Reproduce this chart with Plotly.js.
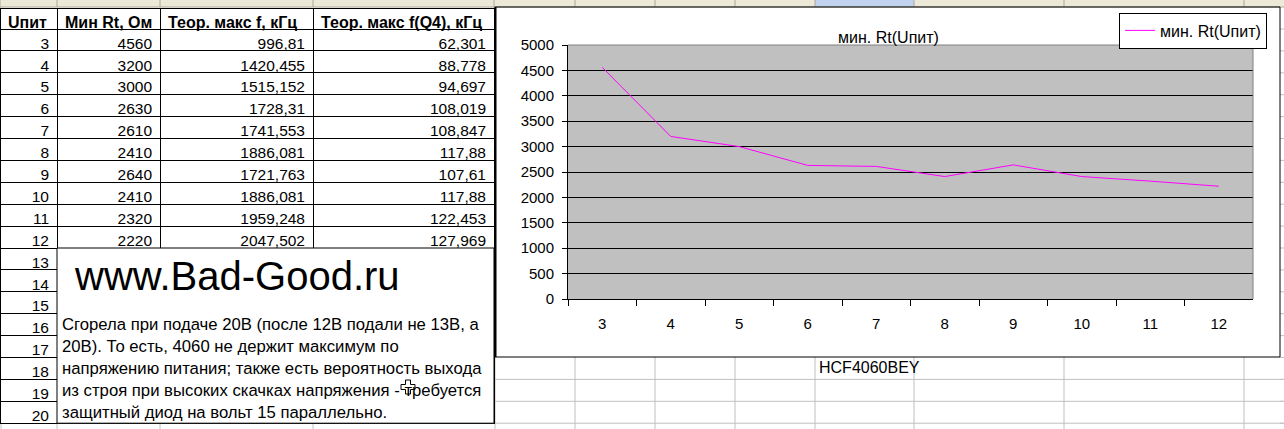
<!DOCTYPE html>
<html><head><meta charset="utf-8">
<script src="https://cdn.plot.ly/plotly-3.0.1.min.js"></script>
<style>html,body{margin:0;padding:0;background:#fff;overflow:hidden}</style>
</head><body><div id="chart" style="width:1284px;height:429px"></div>
<script>
// ---- data ----
const uPit = [3, 4, 5, 6, 7, 8, 9, 10, 11, 12];
const minRt = [4560, 3200, 3000, 2630, 2610, 2410, 2640, 2410, 2320, 2220];
const fMax = [996.81, 1420.455, 1515.152, 1728.31, 1741.553, 1886.081, 1721.763, 1886.081, 1959.248, 2047.502];
const fQ4 = [62.301, 88.778, 94.697, 108.019, 108.847, 117.88, 107.61, 117.88, 122.453, 127.969];
const headers = ['Uпит', 'Мин Rt, Ом', 'Теор. макс f, кГц', 'Теор. макс f(Q4), кГц'];
const extraRows = [13, 14, 15, 16, 17, 18, 19, 20];
const siteText = 'www.Bad-Good.ru';
const noteLines = [
  'Сгорела при подаче 20В (после 12В подали не 13В, а',
  '20В). То есть, 4060 не держит максимум по',
  'напряжению питания; также есть вероятность выхода',
  'из строя при высоких скачках напряжения - требуется',
  'защитный диод на вольт 15 параллельно.'
];
const chartTitle = 'мин. Rt(Uпит)';
const seriesName = 'мин. Rt(Uпит)';
const chipLabel = 'HCF4060BEY';

// ---- geometry (pixels) ----
const W = 1284, H = 429;
const F = 'Liberation Sans, Arial, sans-serif';
const px = x => x / W, py = y => 1 - y / H;
const tableTop = 8, headerH = 21, rowH = 21.9;
const colW = [57, 103, 153, 181];
const colX = [0]; colW.forEach(w => colX.push(colX[colX.length - 1] + w));
const tableRight = colX[colX.length - 1];
const rowTop = i => tableTop + headerH + i * rowH;
const nRows = uPit.length + extraRows.length;
const tableBottom = rowTop(nRows);
const sheetCols = [575, 655, 735, 815, 914, 1064, 1244];
const chartBox = {x0: 495, y0: 7, x1: 1280, y1: 357};
const plotBox = {x0: 568, y0: 45, x1: 1253, y1: 299};

const fmt = v => String(v).replace('.', ',');
const nb = s => s.replace(/ /g, '\u00A0');   // keep header text on one line
const blank = extraRows.map(() => '');

const traces = [
  {
    type: 'table',
    domain: {x: [0, px(tableRight)], y: [py(tableBottom + 2), py(tableTop)]},
    columnwidth: colW,
    header: {
      values: headers.map(nb),
      align: 'left', height: headerH,
      line: {color: 'black', width: 1}, fill: {color: 'white'},
      font: {family: F, size: 16, color: 'black', weight: 'bold'}
    },
    cells: {
      values: [
        uPit.concat(extraRows),
        minRt.map(String).concat(blank),
        fMax.map(fmt).concat(blank),
        fQ4.map(fmt).concat(blank)
      ],
      align: 'right', height: rowH,
      line: {color: 'black', width: 1}, fill: {color: 'white'},
      font: {family: F, size: 15.5, color: 'black'}
    }
  },
  {
    type: 'scatter', mode: 'lines',
    x: uPit, y: minRt, name: seriesName,
    line: {color: '#FF00FF', width: 1},
    showlegend: true, hoverinfo: 'skip'
  }
];

const shapes = [];
const line = (x0, y0, x1, y1, color, width, layer) =>
  shapes.push({type: 'line', xref: 'paper', yref: 'paper', x0: px(x0), y0: py(y0), x1: px(x1), y1: py(y1),
    line: {color: color, width: width || 1}, layer: layer || 'below'});
const rect = (x0, y0, x1, y1, fill, lc, lw, layer) =>
  shapes.push({type: 'rect', xref: 'paper', yref: 'paper', x0: px(x0), y0: py(y0), x1: px(x1), y1: py(y1),
    fillcolor: fill, line: {color: lc || 'rgba(0,0,0,0)', width: lw === undefined ? 0 : lw}, layer: layer || 'below'});

// column header strip
rect(0, 0, W, 7, '#ECE9D8');
rect(815, 0, 914, 7, '#C1D3EF');
line(0, 7, W, 7, '#ACA899');
colX.concat(sheetCols).forEach(x => line(x, 0, x, 7, '#ACA899'));
// sheet gridlines
const grid = '#C0C0C0';
line(1, 7, 1, H, grid);
for (let n = 0; n <= nRows + 1; n++) {
  const y = rowTop(n);
  if (y > chartBox.y1 + 1 && y < H) line(chartBox.x0, y, W, y, grid);
  if (y > chartBox.y0 && y < H) line(chartBox.x1, y, W, y, grid);
}
[chartBox.x0].concat(sheetCols).forEach(x => line(x, chartBox.y1, x, H, grid));
colX.slice(1, -1).forEach(x => line(x, tableBottom, x, H, grid));

// merged text cell
rect(colX[1], rowTop(uPit.length), tableRight, tableBottom, 'white', 'black', 1, 'above');
// chart object border
rect(chartBox.x0, chartBox.y0, chartBox.x1, chartBox.y1, 'rgba(0,0,0,0)', 'black', 1, 'above');
line(chartBox.x0 + 0.5, chartBox.y0, chartBox.x0 + 0.5, chartBox.y1, 'black', 2, 'above');
// plot area border (top & right)
line(plotBox.x0, plotBox.y0, plotBox.x1, plotBox.y0, '#808080', 1, 'above');
line(plotBox.x1, plotBox.y0, plotBox.x1, plotBox.y1, '#808080', 1, 'above');
// mouse cursor
(function () {
  const cx = 408, cy = 387, a = 2.5, b = 7;
  const pts = [[-a,-b],[a,-b],[a,-a],[b,-a],[b,a],[a,a],[a,b],[-a,b],[-a,a],[-b,a],[-b,-a],[-a,-a]];
  const path = 'M' + pts.map(p => px(cx + p[0]) + ',' + py(cy + p[1])).join('L') + 'Z';
  shapes.push({type: 'path', xref: 'paper', yref: 'paper', path: path, fillcolor: 'white',
    line: {color: 'black', width: 1}, layer: 'above'});
})();

const annotations = [];
const label = (text, x, y, size, extra) => annotations.push(Object.assign({
  text: text, x: px(x), y: py(y), xref: 'paper', yref: 'paper', xanchor: 'left', yanchor: 'middle',
  showarrow: false, font: {family: F, size: size, color: 'black'}, borderpad: 0
}, extra || {}));
label(siteText, colX[1] + 16, rowTop(uPit.length) + 28, 40);
noteLines.forEach((t, i) => label(t, colX[1] + 4, rowTop(uPit.length + 3 + i) + rowH / 2, 16.7));
label(chipLabel, 818, rowTop(15) + rowH / 2 - 0.5, 16);

const layout = {
  width: W, height: H,
  margin: {l: 0, r: 0, t: 0, b: 0, pad: 0},
  paper_bgcolor: 'white', plot_bgcolor: '#C0C0C0',
  title: {text: chartTitle, font: {family: F, size: 16, color: 'black'},
    x: px(888.5), xanchor: 'center', xref: 'container', y: py(37), yanchor: 'middle', yref: 'container'},
  showlegend: true,
  legend: {x: px(1119), y: py(12.5), xanchor: 'left', yanchor: 'top', bgcolor: 'white',
    bordercolor: 'black', borderwidth: 1, font: {family: F, size: 16, color: 'black'}},
  xaxis: {
    domain: [px(plotBox.x0), px(plotBox.x1)], type: 'category', range: [-0.5, uPit.length - 0.5],
    tickson: 'boundaries', ticks: 'outside', ticklen: 6, tickwidth: 1, tickcolor: 'black',
    showline: true, linecolor: 'black', linewidth: 1, showgrid: false, zeroline: false,
    tickfont: {family: F, size: 15, color: 'black'}, ticklabelstandoff: 11, fixedrange: true
  },
  yaxis: {
    domain: [py(plotBox.y1), py(plotBox.y0)], range: [0, 5000], tick0: 0, dtick: 500,
    ticks: 'outside', ticklen: 5, tickwidth: 1, tickcolor: 'black',
    showline: true, linecolor: 'black', linewidth: 1,
    showgrid: true, gridcolor: 'black', gridwidth: 1, zeroline: false,
    tickfont: {family: F, size: 15, color: 'black'}, ticklabelstandoff: 5, fixedrange: true
  },
  shapes: shapes,
  annotations: annotations
};

Plotly.newPlot('chart', traces, layout, {displayModeBar: false, staticPlot: true});
</script></body></html>
